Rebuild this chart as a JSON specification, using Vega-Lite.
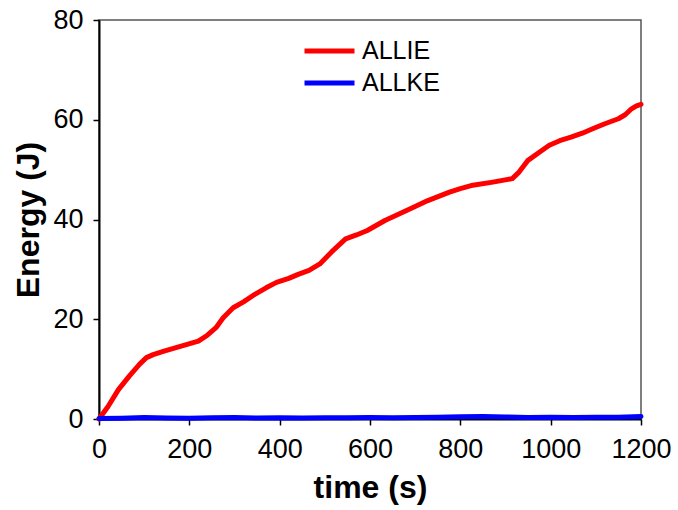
{
  "$schema": "https://vega.github.io/schema/vega-lite/v6.json",
  "width": 542,
  "height": 399,
  "autosize": {"type": "none"},
  "padding": {"left": 99, "top": 20, "right": 37, "bottom": 91},
  "background": "white",
  "config": {
    "view": {"stroke": "#555555", "strokeWidth": 1.5},
    "font": "Liberation Sans"
  },
  "data": {
    "values": [
      {"t": 0, "E": 0, "s": "ALLIE"},
      {"t": 20, "E": 2.5, "s": "ALLIE"},
      {"t": 43, "E": 5.9, "s": "ALLIE"},
      {"t": 67, "E": 8.6, "s": "ALLIE"},
      {"t": 90, "E": 11.0, "s": "ALLIE"},
      {"t": 105, "E": 12.3, "s": "ALLIE"},
      {"t": 120, "E": 12.9, "s": "ALLIE"},
      {"t": 144, "E": 13.6, "s": "ALLIE"},
      {"t": 182, "E": 14.6, "s": "ALLIE"},
      {"t": 220, "E": 15.6, "s": "ALLIE"},
      {"t": 240, "E": 16.8, "s": "ALLIE"},
      {"t": 259, "E": 18.3, "s": "ALLIE"},
      {"t": 275, "E": 20.3, "s": "ALLIE"},
      {"t": 297, "E": 22.3, "s": "ALLIE"},
      {"t": 320, "E": 23.5, "s": "ALLIE"},
      {"t": 345, "E": 25.0, "s": "ALLIE"},
      {"t": 370, "E": 26.3, "s": "ALLIE"},
      {"t": 393, "E": 27.4, "s": "ALLIE"},
      {"t": 420, "E": 28.2, "s": "ALLIE"},
      {"t": 441, "E": 29.0, "s": "ALLIE"},
      {"t": 465, "E": 29.8, "s": "ALLIE"},
      {"t": 489, "E": 31.1, "s": "ALLIE"},
      {"t": 515, "E": 33.5, "s": "ALLIE"},
      {"t": 546, "E": 36.1, "s": "ALLIE"},
      {"t": 570, "E": 36.9, "s": "ALLIE"},
      {"t": 594, "E": 37.8, "s": "ALLIE"},
      {"t": 633, "E": 39.8, "s": "ALLIE"},
      {"t": 681, "E": 41.8, "s": "ALLIE"},
      {"t": 728, "E": 43.8, "s": "ALLIE"},
      {"t": 776, "E": 45.5, "s": "ALLIE"},
      {"t": 800, "E": 46.2, "s": "ALLIE"},
      {"t": 824, "E": 46.8, "s": "ALLIE"},
      {"t": 872, "E": 47.5, "s": "ALLIE"},
      {"t": 915, "E": 48.2, "s": "ALLIE"},
      {"t": 930, "E": 49.5, "s": "ALLIE"},
      {"t": 949, "E": 51.8, "s": "ALLIE"},
      {"t": 975, "E": 53.5, "s": "ALLIE"},
      {"t": 997, "E": 54.9, "s": "ALLIE"},
      {"t": 1020, "E": 55.8, "s": "ALLIE"},
      {"t": 1045, "E": 56.5, "s": "ALLIE"},
      {"t": 1070, "E": 57.3, "s": "ALLIE"},
      {"t": 1093, "E": 58.2, "s": "ALLIE"},
      {"t": 1120, "E": 59.2, "s": "ALLIE"},
      {"t": 1150, "E": 60.2, "s": "ALLIE"},
      {"t": 1165, "E": 61.0, "s": "ALLIE"},
      {"t": 1179, "E": 62.2, "s": "ALLIE"},
      {"t": 1190, "E": 62.8, "s": "ALLIE"},
      {"t": 1200, "E": 63.1, "s": "ALLIE"},
      {"t": 0, "E": 0.1, "s": "ALLKE"},
      {"t": 50, "E": 0.15, "s": "ALLKE"},
      {"t": 100, "E": 0.3, "s": "ALLKE"},
      {"t": 150, "E": 0.2, "s": "ALLKE"},
      {"t": 200, "E": 0.15, "s": "ALLKE"},
      {"t": 250, "E": 0.25, "s": "ALLKE"},
      {"t": 300, "E": 0.3, "s": "ALLKE"},
      {"t": 350, "E": 0.2, "s": "ALLKE"},
      {"t": 400, "E": 0.25, "s": "ALLKE"},
      {"t": 450, "E": 0.2, "s": "ALLKE"},
      {"t": 500, "E": 0.25, "s": "ALLKE"},
      {"t": 550, "E": 0.25, "s": "ALLKE"},
      {"t": 600, "E": 0.3, "s": "ALLKE"},
      {"t": 650, "E": 0.25, "s": "ALLKE"},
      {"t": 700, "E": 0.3, "s": "ALLKE"},
      {"t": 750, "E": 0.35, "s": "ALLKE"},
      {"t": 800, "E": 0.45, "s": "ALLKE"},
      {"t": 850, "E": 0.5, "s": "ALLKE"},
      {"t": 900, "E": 0.4, "s": "ALLKE"},
      {"t": 950, "E": 0.3, "s": "ALLKE"},
      {"t": 1000, "E": 0.35, "s": "ALLKE"},
      {"t": 1050, "E": 0.3, "s": "ALLKE"},
      {"t": 1100, "E": 0.35, "s": "ALLKE"},
      {"t": 1150, "E": 0.35, "s": "ALLKE"},
      {"t": 1200, "E": 0.5, "s": "ALLKE"}
    ]
  },
  "mark": {"type": "line", "strokeWidth": 5, "strokeCap": "round", "strokeJoin": "round"},
  "encoding": {
    "x": {
      "field": "t",
      "type": "quantitative",
      "scale": {"domain": [0, 1200], "nice": false},
      "axis": {
        "title": "time (s)",
        "values": [0, 200, 400, 600, 800, 1000, 1200],
        "format": "d",
        "grid": false,
        "domainColor": "black",
        "domainWidth": 2,
        "tickColor": "black",
        "tickWidth": 1.5,
        "tickSize": 6,
        "labelFontSize": 27,
        "labelColor": "black",
        "labelPadding": 11,
        "labelFont": "Liberation Sans",
        "labelFlush": false,
        "labelOverlap": false,
        "titleFont": "Liberation Sans",
        "titleFontSize": 32,
        "titleFontWeight": "bold",
        "titleColor": "black",
        "titleX": 271,
        "titleY": 53,
        "titleBaseline": "top"
      }
    },
    "y": {
      "field": "E",
      "type": "quantitative",
      "scale": {"domain": [0, 80], "nice": false},
      "axis": {
        "title": "Energy (J)",
        "values": [0, 20, 40, 60, 80],
        "grid": false,
        "domainColor": "black",
        "domainWidth": 2,
        "tickColor": "black",
        "tickWidth": 1.5,
        "tickSize": 6,
        "labelFontSize": 27,
        "labelColor": "black",
        "labelPadding": 10,
        "labelFont": "Liberation Sans",
        "labelFlush": false,
        "labelOverlap": false,
        "titleFont": "Liberation Sans",
        "titleFontSize": 32,
        "titleFontWeight": "bold",
        "titleColor": "black",
        "titleAngle": 270,
        "titleX": -54,
        "titleY": 199.5,
        "titleAlign": "center",
        "titleBaseline": "bottom"
      }
    },
    "color": {
      "field": "s",
      "type": "nominal",
      "scale": {"domain": ["ALLIE", "ALLKE"], "range": ["#ff0000", "#0000ff"]},
      "legend": {
        "title": null,
        "orient": "none",
        "legendX": 218,
        "legendY": 18.5,
        "padding": 0,
        "symbolType": "M-2.5,0H2.5",
        "symbolSize": 400,
        "symbolStrokeWidth": 5,
        "labelFontSize": 25,
        "labelFont": "Liberation Sans",
        "labelColor": "black",
        "labelOffset": 20,
        "rowPadding": 6
      }
    }
  }
}
